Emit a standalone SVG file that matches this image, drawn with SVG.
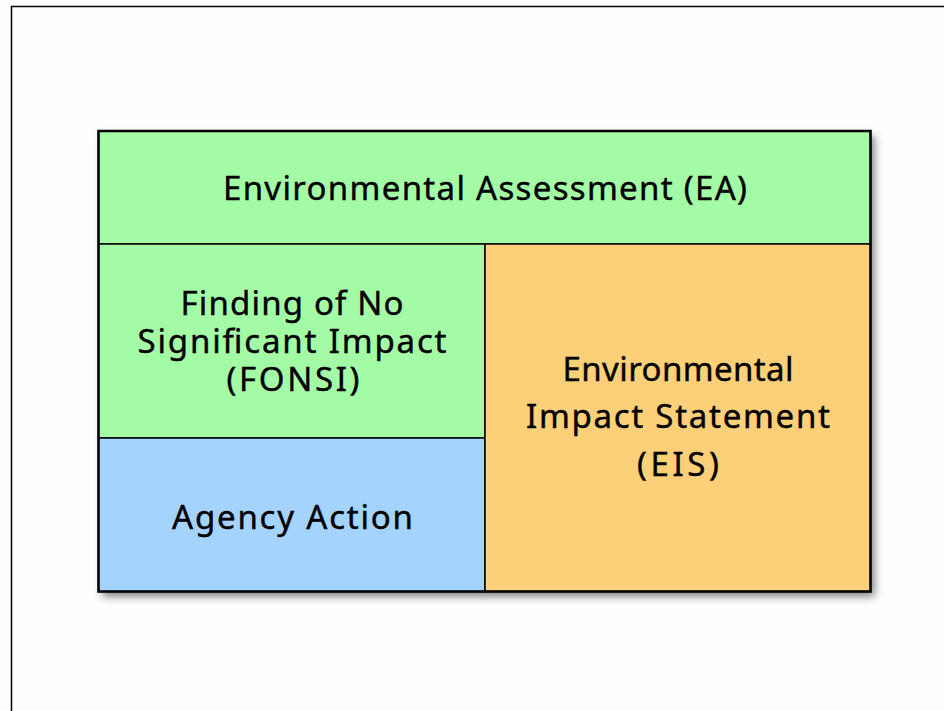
<svg xmlns="http://www.w3.org/2000/svg" width="944" height="711" viewBox="0 0 944 711">
<style>
.lbl{font-family:"Comic Sans MS","Noto Sans","DejaVu Sans",sans-serif;font-size:33px;fill:#000;stroke:#000;stroke-width:0.4;text-anchor:middle}
.box{stroke:#000;stroke-width:1.5}
</style>
<defs>
<filter id="sh" x="-5%" y="-5%" width="115%" height="120%">
<feDropShadow dx="4" dy="5" stdDeviation="4.5" flood-color="#000" flood-opacity="0.5"/>
</filter>
</defs>
<rect width="944" height="711" fill="#fefefe"/>
<rect id="frame" x="11.5" y="6.5" width="960" height="720" fill="none" stroke="#000" stroke-width="1.5"/>
<rect x="98.5" y="131" width="772" height="460.5" fill="#fff" filter="url(#sh)"/>
<g id="ea">
<rect class="box" x="98.5" y="131" width="772" height="113" fill="#a4fba6"/>
<text class="lbl" x="485" y="200" textLength="524">Environmental Assessment (EA)</text>
</g>
<g id="fonsi">
<rect class="box" x="98.5" y="244" width="386.5" height="194" fill="#a4fba6"/>
<text class="lbl" x="292" y="315" textLength="223">Finding of No</text>
<text class="lbl" x="292" y="353" textLength="309">Significant Impact</text>
<text class="lbl" x="293" y="391" textLength="133">(FONSI)</text>
</g>
<g id="agency">
<rect class="box" x="98.5" y="438" width="386.5" height="153.5" fill="#a4d3fe" stroke-width="1"/>
<text class="lbl" x="292.5" y="529" textLength="241">Agency Action</text>
</g>
<g id="eis">
<rect class="box" x="485" y="244" width="385.5" height="347.5" fill="#fcd079"/>
<text class="lbl" x="678" y="381" textLength="231">Environmental</text>
<text class="lbl" x="678" y="428" textLength="304">Impact Statement</text>
<text class="lbl" x="678" y="476" textLength="82">(EIS)</text>
</g>
<g id="connectors"/>
<rect x="98.5" y="131" width="772" height="460.5" fill="none" stroke="#000" stroke-width="2.5"/>
</svg>
